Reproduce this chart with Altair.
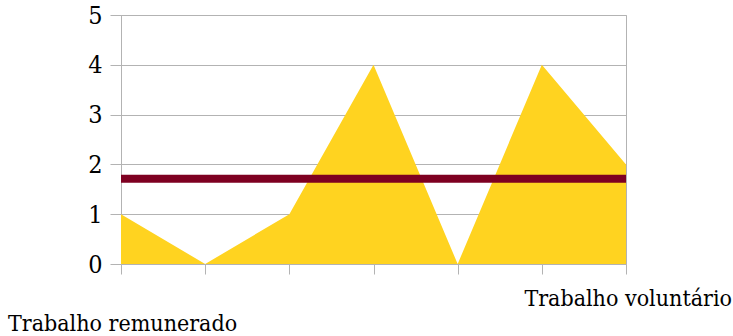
import altair as alt
import pandas as pd

# data
positions = [0, 1, 2, 3, 4, 5, 6]
values = [1, 0, 1, 4, 0, 4, 2]
bottom_labels = ["Trabalho remunerado", "Trabalho voluntário"]
y_ticks = [0, 1, 2, 3, 4, 5]

df = pd.DataFrame({"pos": positions, "value": values})

FONT = "DejaVu Serif Condensed"
GRID = "#b3b3b3"

x_enc = alt.X(
    "pos:Q",
    scale=alt.Scale(domain=[0, 6], nice=False, zero=False),
    axis=alt.Axis(values=positions, labels=False, grid=False, domain=False,
                  ticks=True, tickSize=10, tickColor=GRID, title=None),
)

base = alt.Chart(df)

area = base.mark_area(color="#FFD320", opacity=1).encode(
    x=x_enc,
    y=alt.Y(
        "value:Q",
        scale=alt.Scale(domain=[0, 5], nice=False),
        axis=alt.Axis(values=y_ticks, grid=True, gridColor=GRID, tickColor=GRID,
                      tickSize=11, domainColor=GRID, labelFont=FONT, labelFontSize=25,
                      labelColor="black", labelPadding=8, title=None),
    ),
)

mean_line = base.transform_joinaggregate(
    mean_value="mean(value)"
).mark_line(color="#7E0021", strokeWidth=8, strokeCap="butt").encode(
    x=alt.X("pos:Q"),
    y=alt.Y("mean_value:Q"),
)

label_left = base.transform_filter("datum.pos == 0").mark_text(
    font=FONT, fontSize=23, align="left", baseline="alphabetic", color="black"
).encode(x=alt.value(-113), y=alt.value(316), text=alt.value(bottom_labels[0]))

label_right = base.transform_filter("datum.pos == 0").mark_text(
    font=FONT, fontSize=23, align="right", baseline="alphabetic", color="black"
).encode(x=alt.value(611), y=alt.value(291), text=alt.value(bottom_labels[1]))

chart = alt.layer(area, mean_line, label_left, label_right).properties(
    width=505,
    height=249,
    autosize=alt.AutoSizeParams(type="none"),
    padding={"left": 121, "top": 15, "right": 107, "bottom": 72},
).configure_view(stroke=GRID, strokeWidth=1)

chart.save("out.html", embed_options={"renderer": "svg", "actions": False})
